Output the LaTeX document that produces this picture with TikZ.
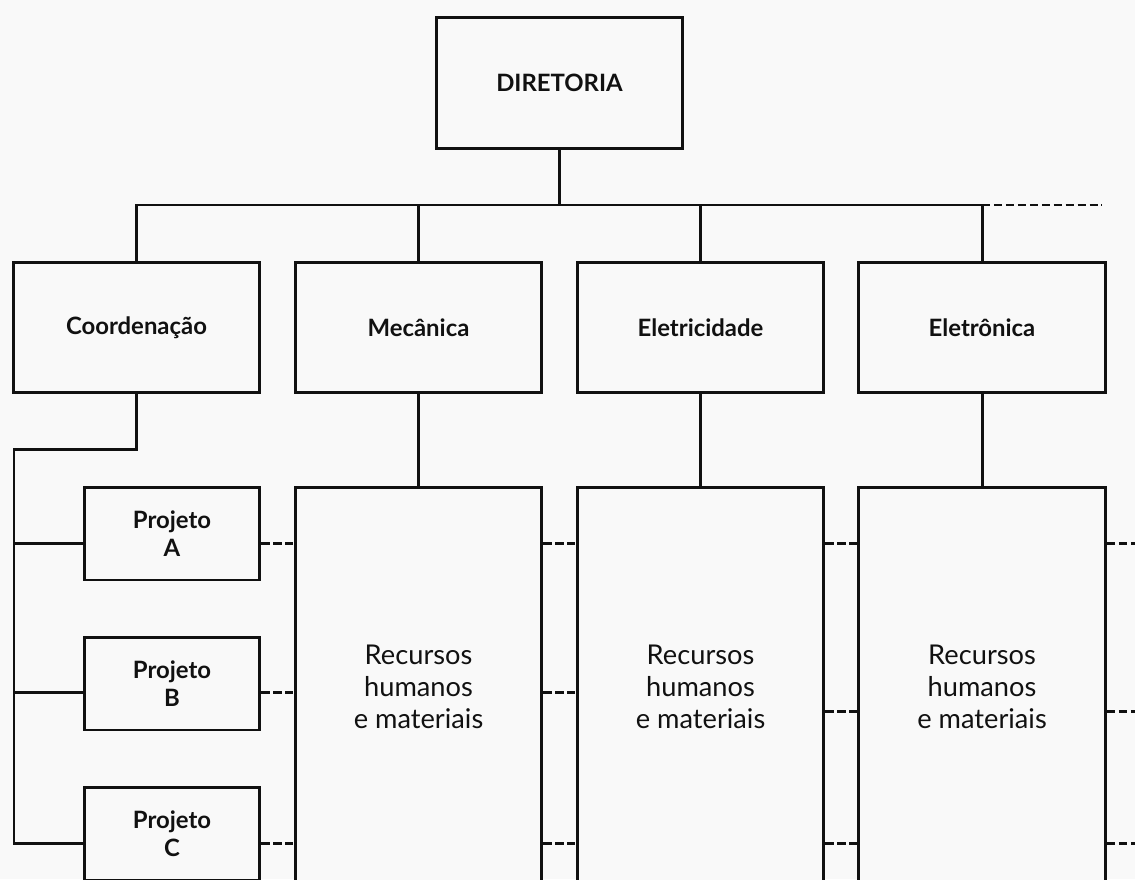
\documentclass[tikz,border=0pt]{standalone}
\usepackage{fontspec}
\setmainfont{Lato}
\definecolor{paper}{HTML}{F9F9F9}
\definecolor{ink}{HTML}{111111}
\begin{document}
\begin{tikzpicture}[x=0.02cm, y=-0.02cm,
  box/.style={draw=ink, line width=1.7pt, fill=paper, rectangle, inner sep=0pt,
    align=center, text=ink},
  head/.style={box, minimum width=4.94cm, minimum height=2.62cm, font=\bfseries\fontsize{13.6}{15}\selectfont},
  proj/.style={box, minimum width=3.52cm, minimum height=1.86cm, font=\bfseries\fontsize{13.6}{16}\selectfont},
  pool/.style={box, minimum width=4.94cm, minimum height=8cm, font=\fontsize{15.5}{18.3}\selectfont},
  link/.style={draw=ink, line width=1.7pt},
  dlink/.style={draw=ink, line width=1.7pt, dash pattern=on 4.6pt off 2.2pt}]
  % page
  \fill[paper] (0,0) rectangle (1135,879);
  \useasboundingbox (0,0) rectangle (1135,879);
  \clip (0,0) rectangle (1135,879);

  % top level
  \node[head, minimum height=2.64cm] (dir) at (559.5,83) {DIRETORIA};

  % departments
  \node[head] (coord) at (136.5,327.5) {Coordenação};
  \node[head] (mec)   at (418.5,327.5) {Mecânica};
  \node[head] (ele)   at (700.5,327.5) {Eletricidade};
  \node[head] (elo)   at (982,327.5)   {Eletrônica};

  % projects
  \node[proj] (pa) at (172,533.5) {Projeto\\A};
  \node[proj] (pb) at (172,683.5) {Projeto\\B};
  \node[proj] (pc) at (172,833.5) {Projeto\\C};

  % resource pools
  \node[pool] (rm) at (418.5,687) {Recursos\\humanos\\e materiais};
  \node[pool] (re) at (700.5,687) {Recursos\\humanos\\e materiais};
  \node[pool] (rl) at (982,687)   {Recursos\\humanos\\e materiais};

  % bus under the board
  \coordinate (bus) at (559.5,205);
  \coordinate (busend) at (1102,205);
  \path[link] (dir.south) -- (bus);
  \path[link] (coord.north) |- (bus) -| (elo.north);
  \path[link] (mec.north) -- (mec.north |- bus);
  \path[link] (ele.north) -- (ele.north |- bus);
  \path[dlink] (elo.north |- bus) -- (busend);

  % departments to pools
  \path[link] (mec.south) -- (rm.north);
  \path[link] (ele.south) -- (re.north);
  \path[link] (elo.south) -- (rl.north);

  % coordination spine
  \coordinate (knee) at (136.5,449);
  \coordinate (spine) at (14,449);
  \coordinate (rowA) at (0,543.5);
  \coordinate (rowB) at (0,692.5);
  \coordinate (rowC) at (0,843);
  \coordinate (rowBr) at (0,711.5);
  \coordinate (edge) at (1135,0);
  \path[link] (coord.south) -- (knee) -- (spine) -- (spine |- rowC) -- (pc.west |- rowC);
  \path[link] (spine |- rowA) -- (pa.west |- rowA);
  \path[link] (spine |- rowB) -- (pb.west |- rowB);

  % dashed ties between projects and pools
  \path[dlink] (pa.east |- rowA) -- (rm.west |- rowA);
  \path[dlink] (pb.east |- rowB) -- (rm.west |- rowB);
  \path[dlink] (pc.east |- rowC) -- (rm.west |- rowC);
  \path[dlink] (rm.east |- rowA) -- (re.west |- rowA);
  \path[dlink] (rm.east |- rowB) -- (re.west |- rowB);
  \path[dlink] (rm.east |- rowC) -- (re.west |- rowC);
  \path[dlink] (re.east |- rowA) -- (rl.west |- rowA);
  \path[dlink] (re.east |- rowBr) -- (rl.west |- rowBr);
  \path[dlink] (re.east |- rowC) -- (rl.west |- rowC);
  \path[dlink] (rl.east |- rowA) -- (edge |- rowA);
  \path[dlink] (rl.east |- rowBr) -- (edge |- rowBr);
  \path[dlink] (rl.east |- rowC) -- (edge |- rowC);
\end{tikzpicture}
\end{document}
